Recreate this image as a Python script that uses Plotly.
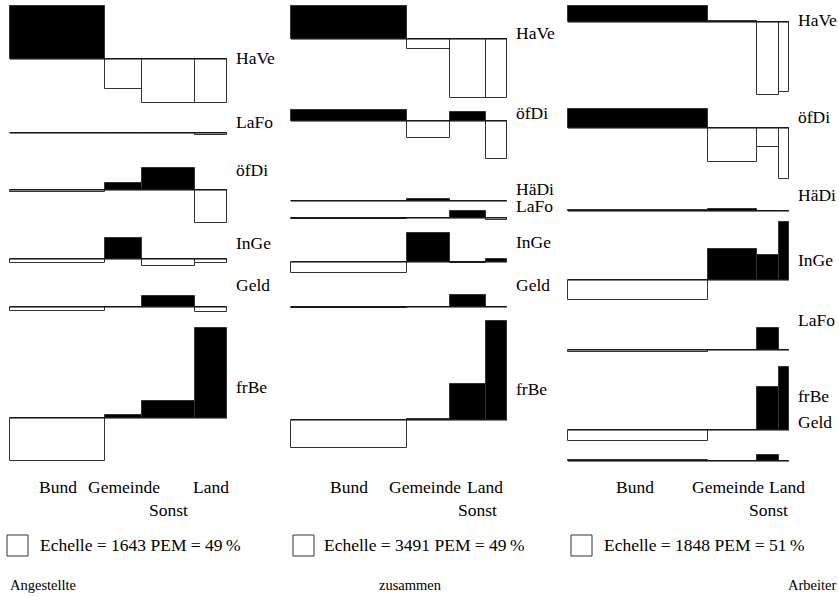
import plotly.graph_objects as go

# ---------------- data ----------------
columns = ["Bund", "Gemeinde", "Sonst", "Land"]

# Angestellte
ang_widths = [95, 37, 53, 32]
ang_rows = ["HaVe", "LaFo", "öfDi", "InGe", "Geld", "frBe"]
ang_HaVe = [53, -30, -44, -44]
ang_LaFo = [0, 0, 0, -2]
ang_oefDi = [-2, 7, 22, -33]
ang_InGe = [-4, 21, -7, -4]
ang_Geld = [-4, 0, 11, -5]
ang_frBe = [-43, 3, 17, 90]
ang_echelle, ang_pem = 1643, 49

# zusammen
zus_widths = [116, 43, 36, 21]
zus_rows = ["HaVe", "öfDi", "HäDi", "LaFo", "InGe", "Geld", "frBe"]
zus_HaVe = [33, -10, -59, -59]
zus_oefDi = [11, -17, 9, -38]
zus_HaeDi = [0, 2, 0, 0]
zus_LaFo = [-1, 0, 7, -2]
zus_InGe = [-11, 29, -1, 3]
zus_Geld = [-1, 0, 12, 0.5]
zus_frBe = [-28, 1, 36, 99]
zus_echelle, zus_pem = 3491, 49

# Arbeiter
arb_widths = [140, 49, 22, 10]
arb_rows = ["HaVe", "öfDi", "HäDi", "InGe", "LaFo", "frBe", "Geld"]
arb_HaVe = [16, 1, -73, -70]
arb_oefDi = [19, -34, -19, -51]
arb_HaeDi = [1, 2, 0.5, 0]
arb_InGe = [-20, 31, 25, 58]
arb_LaFo = [-2, 0.5, 22, 0]
arb_frBe = [-11, 0, 43, 63]
arb_Geld = [1, 0, 6, 0]
arb_echelle, arb_pem = 1848, 51

panel_titles = ["Angestellte", "zusammen", "Arbeiter"]

# ---------------- layout (positions) ----------------
panels = [
    dict(x0=10, widths=ang_widths, rows=ang_rows,
         devs=[ang_HaVe, ang_LaFo, ang_oefDi, ang_InGe, ang_Geld, ang_frBe],
         base=[59, 133, 190, 259, 307, 418],
         label_y=[58, 122, 170, 243, 285, 387],
         col_shift=[0, 0, 0, 0],
         legend_x=7, text_x=38, echelle=ang_echelle, pem=ang_pem,
         title_x=8, title_anchor="left"),
    dict(x0=291, widths=zus_widths, rows=zus_rows,
         devs=[zus_HaVe, zus_oefDi, zus_HaeDi, zus_LaFo, zus_InGe, zus_Geld, zus_frBe],
         base=[39, 121, 201, 218, 262, 307, 420],
         label_y=[33, 113, 189, 206, 242, 285, 389],
         col_shift=[0, -4, 9, -12],
         legend_x=293, text_x=322, echelle=zus_echelle, pem=zus_pem,
         title_x=410, title_anchor="center"),
    dict(x0=568, widths=arb_widths, rows=arb_rows,
         devs=[arb_HaVe, arb_oefDi, arb_HaeDi, arb_InGe, arb_LaFo, arb_frBe, arb_Geld],
         base=[22, 128, 211, 280, 350, 430, 461],
         label_y=[20, 117, 195, 260, 320, 396, 422],
         col_shift=[-3, -5, 0, 3],
         legend_x=571, text_x=602, echelle=arb_echelle, pem=arb_pem,
         title_x=838, title_anchor="right"),
]

FONT = "Liberation Serif"
fs = 17.5
fig = go.Figure()
annotations = []
shapes = []

for p, title in zip(panels, panel_titles):
    x0 = p["x0"]
    widths = p["widths"]
    total = sum(widths)
    lefts = [x0 + sum(widths[:i]) for i in range(len(widths))]
    centers = [l + w / 2 for l, w in zip(lefts, widths)]

    bx, by, bb, bw, bc = [], [], [], [], []
    lx, ly = [], []
    for dev, b in zip(p["devs"], p["base"]):
        for c, w, d in zip(centers, widths, dev):
            bx.append(c)
            by.append(-d)
            bb.append(b)
            bw.append(w)
            bc.append("black" if d > 0 else "white")
        lx += [x0, x0 + total, None]
        ly += [b, b, None]

    fig.add_trace(go.Bar(x=bx, y=by, base=bb, width=bw,
                         marker=dict(color=bc, line=dict(color="#333", width=1)),
                         hoverinfo="skip", showlegend=False))
    fig.add_trace(go.Scatter(x=lx, y=ly, mode="lines",
                             line=dict(color="black", width=1.2),
                             hoverinfo="skip", showlegend=False))

    # row labels
    for name, yl in zip(p["rows"], p["label_y"]):
        annotations.append(dict(x=x0 + total + 7, y=yl, text=name, xref="x", yref="y",
                                xanchor="left", yanchor="middle", showarrow=False,
                                font=dict(family=FONT, size=fs, color="black")))
    # column labels
    for name, c, s in zip(columns, centers, p["col_shift"]):
        yy = 510 if name == "Sonst" else 487
        annotations.append(dict(x=c + s, y=yy, text=name, xref="x", yref="y",
                                xanchor="center", yanchor="middle", showarrow=False,
                                font=dict(family=FONT, size=fs, color="black")))
    # scale square
    shapes.append(dict(type="rect", xref="x", yref="y",
                       x0=p["legend_x"], x1=p["legend_x"] + 21, y0=535, y1=556,
                       line=dict(color="#333", width=1), fillcolor="white"))
    annotations.append(dict(x=p["text_x"], y=545,
                            text=f"Echelle = {p['echelle']} PEM = {p['pem']}\u2009%",
                            xref="x", yref="y", xanchor="left", yanchor="middle",
                            showarrow=False, font=dict(family=FONT, size=fs, color="black")))
    annotations.append(dict(x=p["title_x"], y=585, text=title, xref="x", yref="y",
                            xanchor=p["title_anchor"], yanchor="middle", showarrow=False,
                            font=dict(family=FONT, size=14.5, color="black")))

fig.update_layout(
    width=839, height=597,
    margin=dict(l=0, r=0, t=0, b=0),
    paper_bgcolor="white", plot_bgcolor="white",
    barmode="overlay", bargap=0,
    xaxis=dict(range=[0, 839], visible=False, fixedrange=True),
    yaxis=dict(range=[597, 0], visible=False, fixedrange=True),
    annotations=annotations, shapes=shapes,
    showlegend=False,
)

fig.write_html(
    "out.html",
    config={"displayModeBar": False},
    post_script="document.body.style.margin='0';document.body.style.overflow='hidden';",
)
